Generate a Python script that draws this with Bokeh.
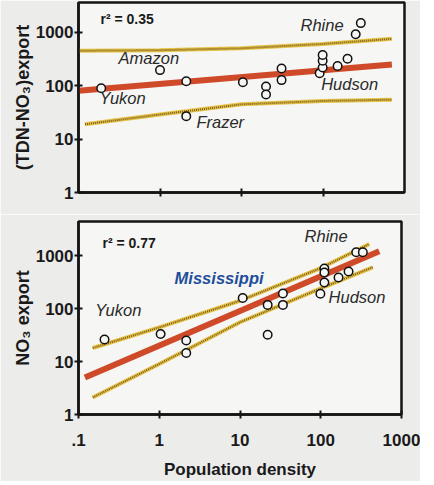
from bokeh.plotting import figure
from bokeh.layouts import column
from bokeh.models import FixedTicker, Label, CustomJSTickFormatter
from bokeh.embed import file_html
from bokeh.resources import INLINE

# ---------------- data ----------------
x_ticks = [0.1, 1, 10, 100, 1000]
x_tick_labels = [".1", "1", "10", "100", "1000"]
y_ticks = [1, 10, 100, 1000]
y_tick_labels = ["1", "10", "100", "1000"]

# top panel: (TDN-NO3) export vs population density
tdn_density = [0.19, 1.0, 2.1, 2.1, 10.4, 20, 20, 31, 31, 91, 99, 99, 99, 151, 200, 252, 291]
tdn_export = [90, 197, 122, 27, 117, 97, 69, 212, 128, 173, 221, 296, 377, 235, 322, 930, 1500]
tdn_fit_x = [0.1, 700]
tdn_fit_y = [81, 250]
tdn_upper_x = [0.1, 1, 10, 100, 700]
tdn_upper_y = [455, 465, 505, 610, 760]
tdn_lower_x = [0.12, 1, 10, 100, 700]
tdn_lower_y = [19, 29, 45, 52, 55]
tdn_r2 = "r\u00b2 = 0.35"

# bottom panel: NO3 export vs population density
no3_density = [0.21, 1.04, 2.16, 2.16, 10.8, 22, 22, 34, 34, 99, 111, 111, 111, 166, 221, 275, 332]
no3_export = [26, 33, 25, 14.5, 158, 117, 32, 192, 117, 190, 570, 480, 310, 384, 499, 1150, 1150]
no3_fit_x = [0.12, 530]
no3_fit_y = [5.0, 1200]
no3_upper_x = [0.15, 1, 10, 100, 400]
no3_upper_y = [18, 44, 140, 580, 1650]
no3_lower_x = [0.15, 1, 10, 100, 440]
no3_lower_y = [2.1, 9, 55, 240, 600]
no3_r2 = "r\u00b2 = 0.77"

FONT = "Liberation Sans"
OUT_BG = "#ececeb"
IN_BG = "#f6f6f4"
RED = "#cf4a28"
BAND_Y = "#e6c447"
BAND_B = "#7a5a22"


def tick_formatter(values, labels):
    return CustomJSTickFormatter(args=dict(vals=values, labs=labels), code="""
        for (let i = 0; i < vals.length; i++) {
            if (Math.abs(Math.log10(tick) - Math.log10(vals[i])) < 1e-6) return labs[i];
        }
        return "";
    """)


def make_panel(fw, fh, bl, br, bt, bb, ymax, show_x_labels):
    p = figure(x_axis_type="log", y_axis_type="log",
               x_range=(0.1, 1000), y_range=(1, ymax),
               frame_width=fw, frame_height=fh,
               min_border_left=bl, min_border_right=br,
               min_border_top=bt, min_border_bottom=bb,
               output_backend="svg", toolbar_location=None)
    p.background_fill_color = IN_BG
    p.border_fill_color = OUT_BG
    p.outline_line_color = "#151515"
    p.outline_line_width = 2.5
    p.xgrid.visible = False
    p.ygrid.visible = False
    for ax in (p.xaxis[0], p.yaxis[0]):
        ax.axis_line_color = "#151515"
        ax.axis_line_width = 2.5
        ax.major_tick_line_color = "#151515"
        ax.major_tick_line_width = 2
        ax.major_tick_in = 4
        ax.major_tick_out = 4
        ax.minor_tick_line_color = None
        ax.major_label_text_font = FONT
        ax.major_label_text_font_style = "bold"
        ax.major_label_text_font_size = "17px"
        ax.major_label_text_color = "#1a1a1a"
        ax.axis_label_text_font = FONT
        ax.axis_label_text_font_style = "bold"
        ax.axis_label_text_color = "#1a1a1a"
    p.yaxis.ticker = FixedTicker(ticks=y_ticks)
    p.yaxis.formatter = tick_formatter(y_ticks, y_tick_labels)
    p.yaxis.major_label_standoff = 1
    p.yaxis.axis_label_text_font_size = "18px"
    p.yaxis.axis_label_standoff = 0
    if show_x_labels:
        p.xaxis.ticker = FixedTicker(ticks=x_ticks)
        p.xaxis.formatter = tick_formatter(x_ticks, x_tick_labels)
        p.xaxis.major_label_standoff = 15
        p.xaxis.axis_label_text_font_size = "17px"
        p.xaxis.axis_label_standoff = 11
    else:
        p.xaxis.ticker = FixedTicker(ticks=x_ticks[1:-1])
        p.xaxis.major_label_text_color = None
        p.xaxis.major_label_text_font_size = "1px"
    return p


def draw_band(p, xs, ys):
    p.line(xs, ys, line_color=BAND_Y, line_width=4)
    p.line(xs, ys, line_color=BAND_B, line_width=2, line_dash="1 1")


def add_label(p, x, y, text, size="16.5px", style="italic", color="#2a2a2a"):
    p.add_layout(Label(x=x, y=y, text=text, text_font=FONT, text_font_style=style,
                       text_font_size=size, text_color=color,
                       text_align="left", text_baseline="middle"))


# ---------------- top panel ----------------
p1 = make_panel(326, 190, 78, 16, 2, 22, 3650, False)
p1.yaxis.axis_label = "(TDN-NO\u2083)export"
draw_band(p1, tdn_upper_x, tdn_upper_y)
draw_band(p1, tdn_lower_x, tdn_lower_y)
p1.line(tdn_fit_x, tdn_fit_y, line_color=RED, line_width=6)
p1.scatter(tdn_density, tdn_export, size=8.5, fill_color=IN_BG,
           line_color="#111111", line_width=1.5)
add_label(p1, 0.186, 1760, tdn_r2, size="14px", style="bold", color="#1a1a1a")
add_label(p1, 53, 1360, "Rhine")
add_label(p1, 0.31, 327, "Amazon")
add_label(p1, 0.181, 58, "Yukon")
add_label(p1, 2.8, 20.6, "Frazer")
add_label(p1, 95, 106, "Hudson")

# ---------------- bottom panel ----------------
p2 = make_panel(323, 193, 76, 21, 7, 63, 4385, True)
p2.yaxis.axis_label = "NO\u2083 export"
p2.xaxis.axis_label = "Population density"
draw_band(p2, no3_upper_x, no3_upper_y)
draw_band(p2, no3_lower_x, no3_lower_y)
p2.line(no3_fit_x, no3_fit_y, line_color=RED, line_width=6)
p2.scatter(no3_density, no3_export, size=8.5, fill_color=IN_BG,
           line_color="#111111", line_width=1.5)
add_label(p2, 0.198, 1760, no3_r2, size="14px", style="bold", color="#1a1a1a")
add_label(p2, 63, 2350, "Rhine")
add_label(p2, 1.55, 384, "Mississippi", size="16.5px", style="bold italic", color="#1f4e9c")
add_label(p2, 0.161, 94, "Yukon")
add_label(p2, 125, 166, "Hudson")

layout = column(p1, p2, spacing=0)
open("out.html", "w").write(file_html(layout, INLINE))
